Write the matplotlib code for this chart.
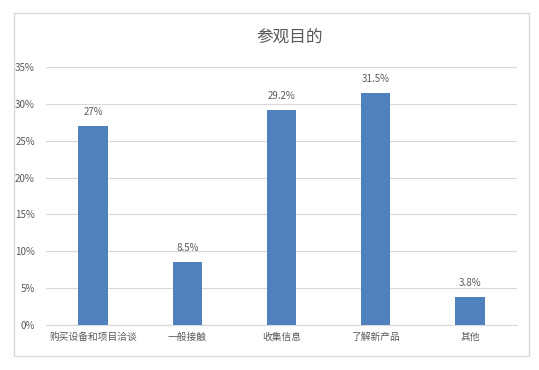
import matplotlib.pyplot as plt
from matplotlib.patches import Rectangle

plt.rcParams['font.family'] = ['Noto Sans CJK SC', 'DejaVu Sans']

categories = ['购买设备和项目洽谈', '一般接触', '收集信息', '了解新产品', '其他']
values = [27, 8.5, 29.2, 31.5, 3.8]
labels = ['27%', '8.5%', '29.2%', '31.5%', '3.8%']
yticks = [0, 5, 10, 15, 20, 25, 30, 35]

text_color = '#595959'
fig = plt.figure(figsize=(5.39, 3.70), dpi=100)

# chart border
fig.patches.append(Rectangle((14 / 539, 1 - 356 / 370), 515 / 539, 343 / 370,
                             transform=fig.transFigure, fill=False,
                             edgecolor='#d9d9d9', linewidth=1))

ax = fig.add_axes([46 / 539, 1 - 325 / 370, 471 / 539, 258 / 370])
x = range(len(categories))
ax.bar(x, values, width=0.31, color='#4f81bd', zorder=3)
for i, v in enumerate(values):
    ax.text(i, v + 1.2, labels[i], ha='center', va='bottom', fontsize=7, color=text_color)

ax.set_ylim(0, 35)
ax.set_xlim(-0.5, 4.5)
ax.set_yticks(yticks)
ax.set_yticklabels([str(t) + '%' for t in yticks])
ax.set_xticks(list(x))
ax.set_xticklabels(categories)
ax.tick_params(axis='both', length=0, labelsize=7, labelcolor=text_color)
ax.tick_params(axis='x', pad=5)
ax.tick_params(axis='y', pad=8)
ax.grid(axis='y', color='#d9d9d9', linewidth=0.8, zorder=0)
for s in ['top', 'right', 'left']:
    ax.spines[s].set_visible(False)
ax.spines['bottom'].set_color('#d9d9d9')

fig.text(290 / 539, 1 - 38 / 370, '参观目的', ha='center', va='center', fontsize=12, color=text_color)

fig.savefig('out.png', dpi=100)
